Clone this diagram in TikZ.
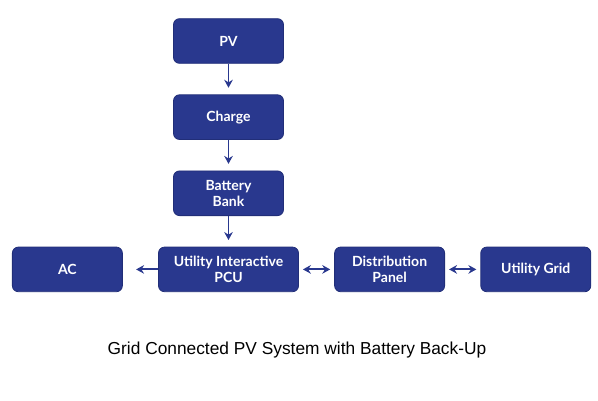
\documentclass[tikz,border=0pt]{standalone}
\usepackage{fontspec}
\setmainfont{Liberation Sans}
\newfontfamily\boxfont{Lato}
\usetikzlibrary{arrows.meta, positioning}
\definecolor{NavyBox}{RGB}{41,56,142}
\definecolor{NavyEdge}{RGB}{33,46,120}

\begin{document}
\begin{tikzpicture}[
    x=0.75pt, y=-0.75pt,
    block/.style={draw=NavyEdge, line width=0.6pt, fill=NavyBox, rounded corners=4.5pt,
        minimum width=82.5pt, minimum height=33.5pt, align=center, text=white,
        font=\boxfont\bfseries\fontsize{10.5}{12}\selectfont},
    flow/.style={-{Stealth[length=6pt, width=6.5pt, inset=2pt]}, line width=1.4pt, NavyBox},
    both/.style={{Stealth[length=6pt, width=6.5pt, inset=2pt]}-{Stealth[length=6pt, width=6.5pt, inset=2pt]}, line width=1.4pt, NavyBox},
    node distance=23pt and 26.5pt,
]
\useasboundingbox (0,0) rectangle (598,400);

% --- vertical chain ---
\node[block] (pv) at (228.5,41) {PV};
\node[block, below=of pv] (charge) {Charge};
\node[block, below=of charge] (bank) {Battery\\Bank};
\node[block, below=of bank, minimum width=105pt] (pcu) {Utility Interactive\\PCU};

% --- bottom row ---
\node[block, left=of pcu] (ac) {AC};
\node[block, right=of pcu] (dist) {Distribution\\Panel};
\node[block, right=of dist] (grid) {Utility Grid};

% --- connectors ---
\draw[flow, shorten >=5pt] (pv) -- (charge);
\draw[flow, shorten >=5pt] (charge) -- (bank);
\draw[flow, shorten >=5pt] (bank) -- (pcu);
\draw[flow, shorten >=10pt] (pcu) -- (ac);
\draw[both, shorten <=3pt, shorten >=3pt] (pcu) -- (dist);
\draw[both, shorten <=3pt, shorten >=3pt] (dist) -- (grid);

% --- caption ---
\node[font=\fontsize{13}{15}\selectfont] (caption) at (297,350)
    {Grid Connected PV System with Battery Back-Up};

\end{tikzpicture}
\end{document}
